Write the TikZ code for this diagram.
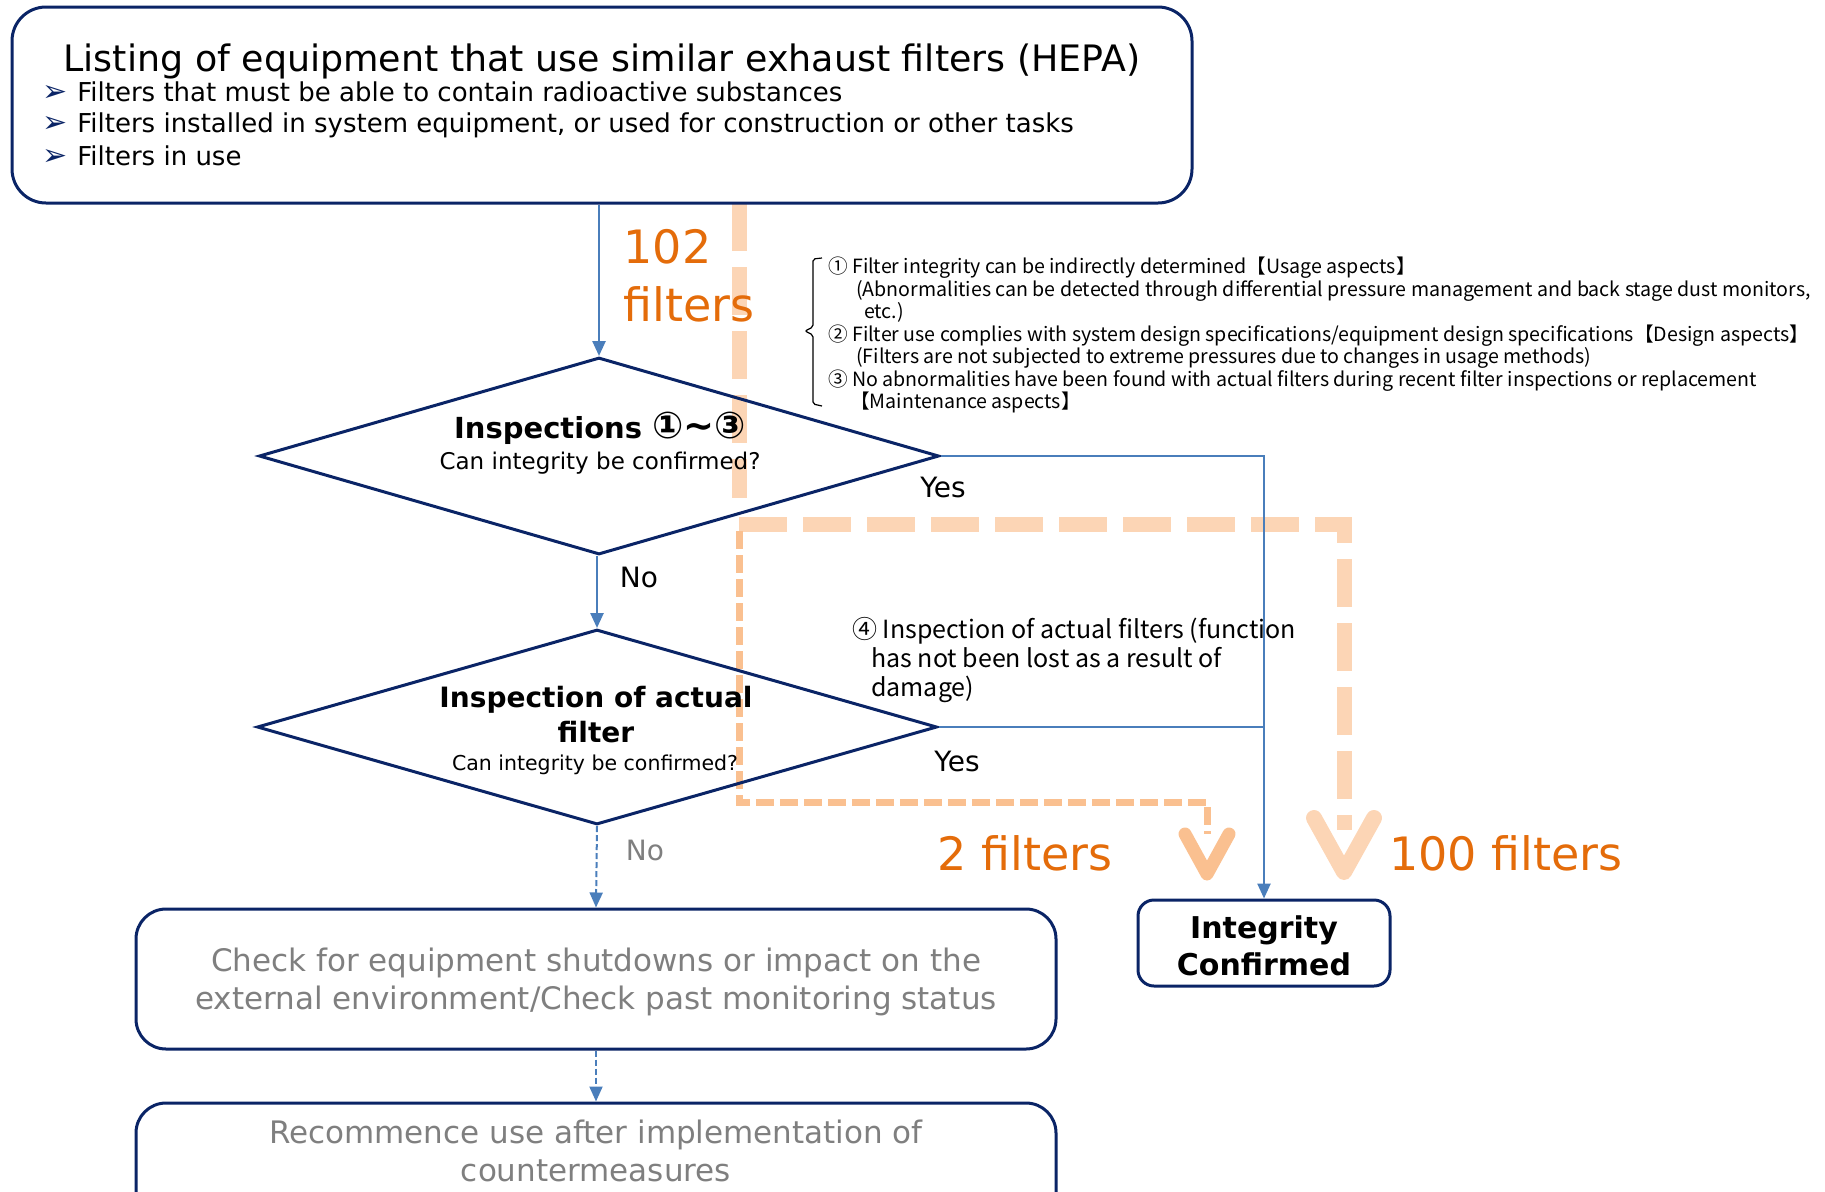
\documentclass[tikz,border=0pt]{standalone}
\usepackage{fontspec}
\setmainfont{DejaVu Sans}
\newfontfamily\notefont{Noto Sans CJK JP}
\usetikzlibrary{shapes.geometric, positioning, arrows.meta}
\definecolor{navy}{HTML}{0A2466}
\definecolor{flowblue}{HTML}{4A7EBB}
\definecolor{peach}{HTML}{FCD5B5}
\definecolor{apricot}{HTML}{FAC090}
\definecolor{countorange}{HTML}{E46C0A}
\definecolor{greytext}{HTML}{7F7F7F}
\newcommand\setfs[2]{\fontsize{#1}{#2}\selectfont}
\tikzset{
hepabox/.style={draw=navy, line width=3pt, rounded corners=34pt, minimum width=1180pt, minimum height=196pt}, % the listing box on top
decision/.style={diamond, draw=navy, line width=3pt, inner sep=0pt, minimum width=680pt, minimum height=197pt},
stepbox/.style={draw=navy, line width=3pt, rounded corners=30pt, minimum width=920pt, minimum height=140pt, text=greytext, font=\setfs{31}{38}, align=center},
donebox/.style={draw=navy, line width=3pt, rounded corners=16pt, minimum width=252pt, minimum height=86pt, font=\bfseries\setfs{30}{37}, align=center},
flowline/.style={flowblue, line width=2.5pt},
flowarrow/.style={flowline, -{Triangle[length=15pt, width=13pt]}},
flowdash/.style={flowarrow, line width=2pt, dash pattern=on 6pt off 3pt},
answer/.style={font=\setfs{28}{32}},
count/.style={text=countorange, font=\setfs{46}{58}, align=left},
bigroute/.style={peach, line width=15pt, dash pattern=on 48pt off 16pt}, % 100 filters
smallroute/.style={apricot, line width=7pt, dash pattern=on 18pt off 6pt}, % 2 filters
chevron/.style={line width=#1, line cap=round, line join=round},
}

\begin{document}
\begin{tikzpicture}[x=1pt, y=-1pt]
    \useasboundingbox (0,0) rectangle (1825,1191);
    % orange routes go underneath
    \draw[bigroute] (739,203) -- (739,498);
    \draw[bigroute] (739,524) -- (1344,524) -- (1344,830);
    \draw[peach, chevron=16pt] (1314,818) -- (1344,872) -- (1374,818);
    \draw[smallroute] (739,531) -- (739,802) -- (1207,802) -- (1207,834);
    \draw[apricot, chevron=13pt] (1185,834) -- (1207,874) -- (1229,834);

    \node[hepabox] (list) at (602,105) {};
    \node[font=\setfs{36.4}{42}] (title) at (602,61.5) {Listing of equipment that use similar exhaust filters (HEPA)};
    \foreach \ypos/\txt [count=\i] in {{92/Filters that must be able to contain radioactive substances}, {125/Filters installed in system equipment, or used for construction or other tasks}, {156/Filters in use}}
        \node[anchor=west, inner sep=0pt, font=\setfs{26}{30}] (item\i) at (42,\ypos) {\textcolor{navy}{\setfs{30}{30}➢}\hspace{10pt}\txt};

    \node[decision] (d1) at (599,456) {};
    \node[font=\bfseries\setfs{29}{34}] (d1title) at (600,428) {Inspections {\setfs{37}{37}①\textasciitilde③}};
    \node[font=\setfs{23}{28}] (d1ask) at (600,463) {Can integrity be confirmed?};
    \node[decision, minimum height=195pt] (d2) at (597,727) {};
    \node[font=\bfseries\setfs{28}{35}, align=center] (d2title) at (596,715) {Inspection of actual\\filter};
    \node[font=\setfs{20.5}{24}] (d2ask) at (595,765) {Can integrity be confirmed?};

    \node[stepbox] (check) at (596,979) {};
    \node[text=greytext, font=\setfs{31}{38}, align=center] (checktext) at (596,982) {Check for equipment shutdowns or impact on the\\external environment/Check past monitoring status};
    \node[stepbox, minimum height=160pt] (resume) at (596,1183) {};
    \node[text=greytext, font=\setfs{31}{38}, align=center] (resumetext) at (596,1151) {Recommence use after implementation of\\countermeasures};
    \node[donebox] (done) at (1264,943) {};
    \node[font=\bfseries\setfs{30}{37}, align=center] (donetext) at (1264,946) {Integrity\\Confirmed};

    \draw[flowarrow] (list.south -| d1.north) -- (d1.north);
    \draw[flowarrow] (d2.north |- d1.south) -- (d2.north);
    \draw[flowarrow] (d1.east) -| (done.north);
    \draw[flowline] (d2.east) -- (d2.east -| done.north);
    \draw[flowdash] (d2.south) -- (check.north);
    \draw[flowdash] (check.south) -- (resume.north);

    \node[answer] (yes1) at (943,487) {Yes};
    \node[answer] (no1) at (639,577) {No};
    \node[answer] (yes2) at (957,761) {Yes};
    \node[answer, text=greytext] (no2) at (645,850) {No};

    \node[count, anchor=west] (total) at (620,276) {102\\filters};
    \node[count] (twocount) at (1025,853) {2 filters};
    \node[count] (hundredcount) at (1506,853) {100 filters};

    % criteria (1)-(3)
    \draw[line width=1.2pt, rounded corners=2pt] (822,258) -- (813,259) -- (813,327) -- (805,331) -- (813,335) -- (813,404) -- (822,406);
    \node[anchor=west, align=left, inner sep=0pt, font=\notefont\setfs{19.6}{22.5}] (criteria) at (828,335) {① Filter integrity can be indirectly determined【Usage aspects】\\
        \hspace*{28pt}(Abnormalities can be detected through differential pressure management and back stage dust monitors,\\
        \hspace*{36pt}etc.)\\
        ② Filter use complies with system design specifications/equipment design specifications【Design aspects】\\
        \hspace*{28pt}(Filters are not subjected to extreme pressures due to changes in usage methods)\\
        ③ No abnormalities have been found with actual filters during recent filter inspections or replacement\\
        \hspace*{22pt}【Maintenance aspects】};
    \node[anchor=west, align=left, inner sep=0pt, font=\notefont\setfs{25}{29}] (actualnote) at (852,660.5) {④ Inspection of actual filters (function\\\hspace*{19pt}has not been lost as a result of\\\hspace*{19pt}damage)};
\end{tikzpicture}
\end{document}
